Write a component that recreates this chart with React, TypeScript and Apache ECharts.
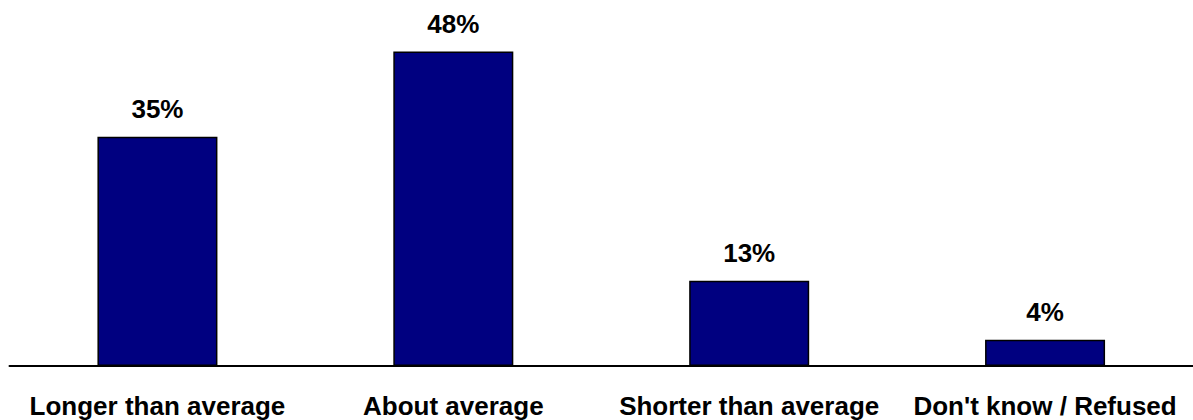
import React, { useEffect, useRef } from "react";
import * as echarts from "echarts";

const categories: string[] = [
  "Longer than average",
  "About average",
  "Shorter than average",
  "Don't know / Refused",
];
const values: number[] = [35, 48, 13, 4];

export default function App() {
  const ref = useRef<HTMLDivElement>(null);
  useEffect(() => {
    if (!ref.current) return;
    const chart = echarts.init(ref.current, undefined, { renderer: "svg" });
    chart.setOption({
      animation: false,
      backgroundColor: "#ffffff",
      grid: { left: 9.5, top: 38.5, width: 1187, bottom: 54, containLabel: false },
      xAxis: {
        type: "category",
        data: categories,
        axisLine: { show: true, lineStyle: { color: "#000000", width: 2 } },
        axisTick: { show: false },
        axisLabel: {
          interval: 0,
          margin: 27,
          color: "#000000",
          fontFamily: "Liberation Sans, Arial, sans-serif",
          fontWeight: "bold",
          fontSize: 26,
        },
      },
      yAxis: {
        type: "value",
        min: 0,
        max: 50,
        show: false,
        splitLine: { show: false },
      },
      series: [
        {
          type: "bar",
          data: values,
          barWidth: 120,
          itemStyle: { color: "#000080", borderColor: "#000000", borderWidth: 1.5 },
          label: {
            show: true,
            position: "top",
            distance: 15,
            formatter: (p: any) => p.value + "%",
            color: "#000000",
            fontFamily: "Liberation Sans, Arial, sans-serif",
            fontWeight: "bold",
            fontSize: 26,
          },
        },
      ],
    });
    return () => chart.dispose();
  }, []);
  return (
    <div
      ref={ref}
      style={{ position: "fixed", left: 0, top: 0, width: 1193, height: 420 }}
    />
  );
}
